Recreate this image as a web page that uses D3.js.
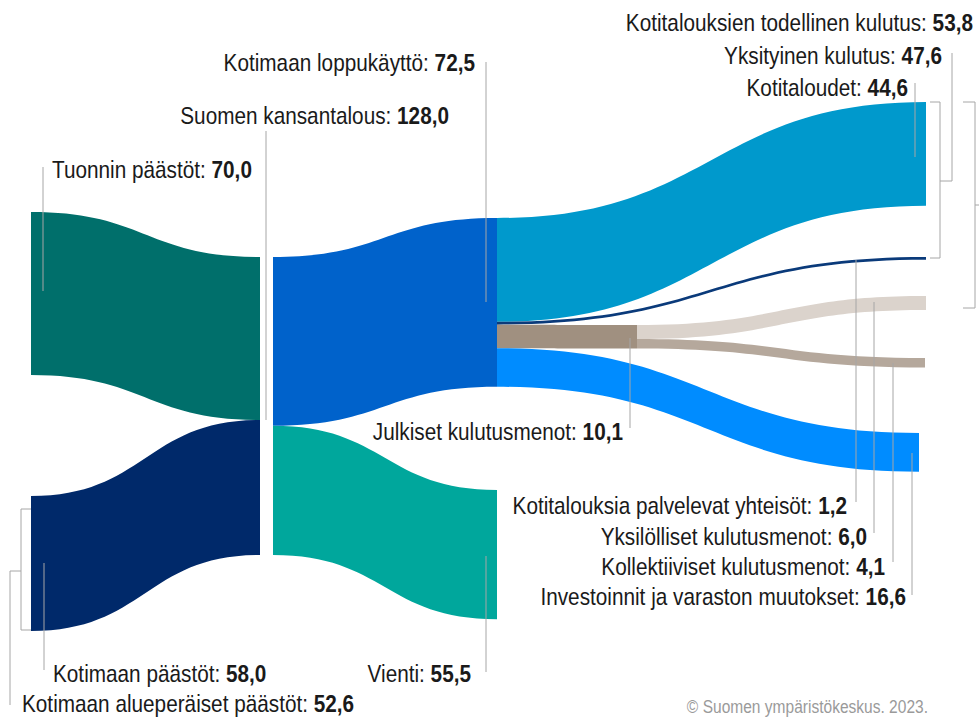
<!DOCTYPE html>
<html>
<head>
<meta charset="utf-8">
<script src="https://d3js.org/d3.v7.min.js"></script>
<style>
  body { margin: 0; background: #fff; }
  svg text { font-family: "Liberation Sans", Arial, sans-serif; }
</style>
</head>
<body>
<svg width="979" height="718" id="svg_sankey"></svg>
<script>

// data (Mt CO2-ekv.)
var node_names = ["Tuonnin päästöt", "Kotimaan päästöt", "Suomen kansantalous",
                  "Kotimaan loppukäyttö", "Vienti", "Kotitaloudet",
                  "Kotitalouksia palvelevat yhteisöt", "Julkiset kulutusmenot",
                  "Investoinnit ja varaston muutokset", "Yksilölliset kulutusmenot",
                  "Kollektiiviset kulutusmenot"];
var node_values = [70.0, 58.0, 128.0, 72.5, 55.5, 44.6, 1.2, 10.1, 16.6, 6.0, 4.1];

var link_source = [0, 1, 2, 2, 3, 3, 3, 3, 7, 7];
var link_target = [2, 2, 3, 4, 5, 6, 7, 8, 9, 10];
var link_values = [70.0, 58.0, 72.5, 55.5, 44.6, 1.2, 10.1, 16.6, 6.0, 4.1];

// bracket labels (sums over several nodes)
var group_names = ["Yksityinen kulutus", "Kotitalouksien todellinen kulutus", "Kotimaan alueperäiset päästöt"];
var group_values = [47.6, 53.8, 52.6];

var link_colors = ["#006f6b", "#00296a", "#0062cb", "#00a79c", "#0099cc",
                   "#0a3a7a", "#a09080", "#008cff", "#dbd3cc", "#b5a89c"];

var svg = d3.select("#svg_sankey");

// one value unit in pixels
var y = d3.scaleLinear().domain([0, 128]).range([0, 298]);

var fmt = d3.formatLocale({decimal: ",", thousands: " ", grouping: [3], currency: ["", ""]}).format(".1f");

// layout: x where links leave / enter a node, and the node top
var layout = [
  {xo: 31,  top: 212},   // Tuonnin
  {xo: 31,  top: 496},   // Kotimaan päästöt
  {xi: 260, xo: 273, top: 257},  // Kansantalous
  {xi: 497, xo: 497, top: 218},  // Loppukäyttö
  {xi: 497, top: 490},   // Vienti
  {xi: 926, top: 102},   // Kotitaloudet
  {xi: 926, top: 257},   // palvelevat
  {xi: 637, xo: 637, top: 325},  // Julkiset
  {xi: 919, top: 433},   // Investoinnit
  {xi: 926, top: 296},   // Yksilölliset
  {xi: 925, top: 358}    // Kollektiiviset
];

var out_off = node_names.map(() => 0);
var in_off = node_names.map(() => 0);

var links = link_values.map(function (v, i) {
  var s = link_source[i], t = link_target[i];
  var h = y(v);
  var l = {
    x0: layout[s].xo, y0: layout[s].top + out_off[s],
    x1: layout[t].xi, y1: layout[t].top + in_off[t],
    h: h, color: link_colors[i]
  };
  out_off[s] += h;
  in_off[t] += h;
  return l;
});

function ribbon(d) {
  var p = d3.path();
  var xm = (d.x0 + d.x1) / 2;
  p.moveTo(d.x0, d.y0);
  p.bezierCurveTo(xm, d.y0, xm, d.y1, d.x1, d.y1);
  p.lineTo(d.x1, d.y1 + d.h);
  p.bezierCurveTo(xm, d.y1 + d.h, xm, d.y0 + d.h, d.x0, d.y0 + d.h);
  p.closePath();
  return p.toString();
}

svg.append("g")
  .selectAll("path")
  .data(links)
  .enter()
  .append("path")
  .attr("d", ribbon)
  .attr("fill", d => d.color);

// leader lines and brackets
var leaders = [
  [[43, 167], [43, 291]],
  [[44, 563], [44, 670]],
  [[266, 131], [266, 420]],
  [[486, 62], [486, 302]],
  [[486, 556], [486, 672]],
  [[630, 338], [630, 428]],
  [[915, 83], [915, 157]],
  [[856, 260], [856, 502]],
  [[874, 302], [874, 533]],
  [[893, 363], [893, 562]],
  [[912, 453], [912, 595]],
  // Yksityinen kulutus bracket
  [[930, 102], [940, 102], [940, 258], [930, 258]],
  [[940, 181], [952, 181], [952, 53]],
  // Kotitalouksien todellinen kulutus bracket
  [[963, 102], [975, 102], [975, 308], [963, 308]],
  [[975, 205], [979, 205]],
  // Kotimaan alueperäiset päästöt bracket
  [[31, 509], [21, 509], [21, 630], [31, 630]],
  [[21, 571], [10, 571], [10, 705]]
];

svg.append("g")
  .selectAll("path")
  .data(leaders)
  .enter()
  .append("path")
  .attr("d", d3.line())
  .attr("fill", "none")
  .attr("stroke", "#a6a6a6")
  .attr("stroke-width", 1);

// labels: [name, value, x, baseline, anchor]
var labels = [
  [node_names[0], node_values[0], 52, 178, "start"],
  [node_names[1], node_values[1], 53, 682, "start"],
  [group_names[2], group_values[2], 22, 712, "start"],
  [node_names[2], node_values[2], 449, 124, "end"],
  [node_names[3], node_values[3], 475, 71, "end"],
  [node_names[4], node_values[4], 471, 682, "end"],
  [node_names[7], node_values[7], 623, 440, "end"],
  [group_names[1], group_values[1], 973, 31, "end"],
  [group_names[0], group_values[0], 942, 64, "end"],
  [node_names[5], node_values[5], 908, 96, "end"],
  [node_names[6], node_values[6], 847, 514, "end"],
  [node_names[9], node_values[9], 867, 545, "end"],
  [node_names[10], node_values[10], 885, 575, "end"],
  [node_names[8], node_values[8], 906, 605, "end"]
];

// narrow face: regular sans squeezed horizontally
var narrow = 0.865;

var txt = svg.append("g")
  .selectAll("text")
  .data(labels)
  .enter()
  .append("text")
  .attr("transform", d => "translate(" + d[2] + "," + d[3] + ") scale(" + narrow + ",1)")
  .attr("text-anchor", d => d[4])
  .attr("font-size", "24px")
  .attr("fill", "#1a1a1a");

txt.append("tspan").text(d => d[0] + ": ");
txt.append("tspan").attr("font-weight", "bold").text(d => fmt(d[1]));

svg.append("text")
  .attr("transform", "translate(928,713) scale(0.84,1)")
  .attr("text-anchor", "end")
  .attr("font-size", "18.5px")
  .attr("fill", "#9a9a9a")
  .text("© Suomen ympäristökeskus. 2023.");

</script>
</body>
</html>
